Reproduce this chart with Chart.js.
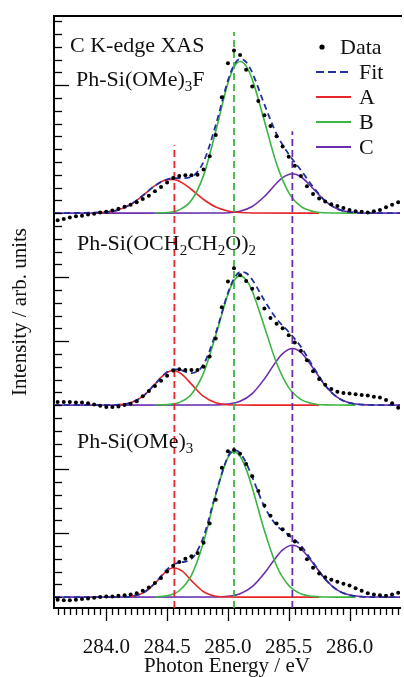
<!DOCTYPE html>
<html>
<head>
<meta charset="utf-8">
<script src="https://cdn.jsdelivr.net/npm/chart.js@4.4.1/dist/chart.umd.min.js"></script>
<style>
  html, body { margin: 0; padding: 0; background: #fff; overflow: hidden; }
  #wrap { width: 404px; height: 677px; }
</style>
</head>
<body>
<div id="wrap"><canvas id="xas" width="404" height="677"></canvas></div>
<script>
// photon energy grid of the measured points (eV)
const dataE = [283.60, 283.65, 283.70, 283.75, 283.80, 283.85, 283.90, 283.95, 284.00, 284.05,
  284.10, 284.15, 284.20, 284.25, 284.30, 284.35, 284.40, 284.45, 284.50, 284.55,
  284.60, 284.65, 284.70, 284.75, 284.80, 284.85, 284.90, 284.95, 285.00, 285.05,
  285.10, 285.15, 285.20, 285.25, 285.30, 285.35, 285.40, 285.45, 285.50, 285.55,
  285.60, 285.65, 285.70, 285.75, 285.80, 285.85, 285.90, 285.95, 286.00, 286.05,
  286.10, 286.15, 286.20, 286.25, 286.30, 286.35, 286.40];

// measured intensity, each relative to its own baseline
const dataOMe3F = [-0.11, -0.09, -0.07, -0.05, -0.04, -0.02, -0.01, 0.01, 0.02, 0.04,
  0.07, 0.10, 0.13, 0.17, 0.22, 0.27, 0.34, 0.41, 0.48, 0.55,
  0.58, 0.59, 0.59, 0.60, 0.68, 0.89, 1.22, 1.81, 2.34, 2.54,
  2.47, 2.24, 1.98, 1.75, 1.53, 1.36, 1.20, 1.04, 0.88, 0.74,
  0.58, 0.42, 0.30, 0.23, 0.18, 0.14, 0.11, 0.08, 0.05, 0.03,
  0.02, 0.01, 0.03, 0.05, 0.09, 0.13, 0.17];
const dataOCH2 = [0.05, 0.05, 0.05, 0.04, 0.04, 0.03, 0.01, -0.01, -0.03, -0.03,
  -0.02, 0.00, 0.02, 0.06, 0.14, 0.22, 0.30, 0.38, 0.46, 0.54,
  0.56, 0.55, 0.55, 0.55, 0.60, 0.76, 1.04, 1.53, 1.93, 2.14,
  2.03, 1.94, 1.82, 1.67, 1.51, 1.36, 1.27, 1.20, 1.09, 0.98,
  0.85, 0.70, 0.53, 0.41, 0.32, 0.25, 0.21, 0.19, 0.18, 0.17,
  0.16, 0.15, 0.13, 0.12, 0.08, 0.03, -0.04];
const dataOMe3 = [-0.04, -0.05, -0.05, -0.04, -0.03, -0.02, -0.01, 0.00, 0.01, 0.01,
  0.02, 0.03, 0.04, 0.06, 0.10, 0.15, 0.22, 0.30, 0.40, 0.49,
  0.55, 0.60, 0.64, 0.69, 0.85, 1.15, 1.52, 2.02, 2.28, 2.30,
  2.24, 2.08, 1.89, 1.66, 1.43, 1.27, 1.15, 1.06, 0.97, 0.87,
  0.75, 0.59, 0.46, 0.37, 0.31, 0.27, 0.24, 0.21, 0.18, 0.14,
  0.10, 0.06, 0.04, 0.03, 0.02, 0.04, 0.07];

// fitted envelope
const fitE = [283.57, 284.0, 284.1, 284.2, 284.3, 284.4, 284.5, 284.55, 284.6, 284.7,
  284.8, 284.9, 285.0, 285.05, 285.1, 285.15, 285.2, 285.3, 285.4, 285.5,
  285.6, 285.7, 285.8, 285.9, 286.0, 286.1, 286.2, 286.415];
const fitOMe3F = [0, 0.016, 0.052, 0.136, 0.275, 0.43, 0.529, 0.549, 0.545, 0.569,
  0.803, 1.376, 2.07, 2.313, 2.409, 2.36, 2.196, 1.698, 1.237, 0.92,
  0.672, 0.41, 0.192, 0.067, 0.017, 0.003, 0, 0];
const fitOCH2 = [0, 0.001, 0.006, 0.036, 0.136, 0.329, 0.519, 0.559, 0.553, 0.499,
  0.638, 1.126, 1.751, 1.976, 2.08, 2.062, 1.96, 1.635, 1.348, 1.143,
  0.913, 0.602, 0.309, 0.121, 0.035, 0.008, 0.001, 0];
const fitOMe3 = [0, 0, 0.001, 0.01, 0.064, 0.219, 0.434, 0.507, 0.539, 0.598,
  0.944, 1.615, 2.194, 2.298, 2.254, 2.097, 1.875, 1.414, 1.122, 0.97,
  0.806, 0.542, 0.281, 0.11, 0.032, 0.007, 0.001, 0];

// component A
const compAE = [283.9, 284.0, 284.1, 284.2, 284.3, 284.4, 284.475, 284.55, 284.625, 284.7,
  284.8, 284.9, 285.0, 285.1, 285.2, 285.75];
const compA_OMe3F = [0.004, 0.016, 0.052, 0.136, 0.274, 0.429, 0.510, 0.527, 0.473, 0.369,
  0.213, 0.096, 0.034, 0.009, 0.002, 0];
const compA_OCH2 = [null, null, 0.006, 0.036, 0.135, 0.328, 0.477, 0.54, 0.477, 0.328,
  0.135, 0.036, 0.006, 0.001, 0, 0];
const compA_OMe3 = [null, null, null, 0.010, 0.062, 0.216, 0.371, 0.459, 0.406, 0.258,
  0.084, 0.015, 0.001, 0, 0, 0];

// component B
const compBE = [284.4, 284.5, 284.55, 284.6, 284.7, 284.8, 284.9, 285.0, 285.05, 285.1,
  285.15, 285.2, 285.3, 285.4, 285.5, 285.6, 285.7, 285.8, 285.9, 286.05];
const compB_OMe3F = [0.001, 0.009, 0.022, 0.05, 0.20, 0.59, 1.28, 2.03, 2.28, 2.37,
  2.297, 2.09, 1.439, 0.77, 0.32, 0.104, 0.026, 0.005, 0.001, 0];
const compB_OCH2 = [0.001, 0.008, 0.019, 0.042, 0.171, 0.503, 1.09, 1.73, 1.943, 2.02,
  1.957, 1.78, 1.226, 0.657, 0.273, 0.089, 0.022, 0.004, 0.001, 0];
const compB_OMe3 = [0.003, 0.021, 0.048, 0.10, 0.34, 0.86, 1.60, 2.18, 2.27, 2.20,
  2.0, 1.71, 1.04, 0.49, 0.18, 0.052, 0.011, 0.002, 0, 0];

// component C
const compCE = [283.57, 284.9, 285.0, 285.1, 285.2, 285.3, 285.4, 285.45, 285.53, 285.6,
  285.7, 285.8, 285.9, 286.0, 286.1, 286.2, 286.415];
const compC_OMe3F = [0, 0.001, 0.006, 0.030, 0.104, 0.259, 0.467, 0.554, 0.615, 0.568,
  0.384, 0.187, 0.066, 0.017, 0.003, 0, 0];
const compC_OCH2 = [0, 0.003, 0.015, 0.059, 0.18, 0.409, 0.691, 0.806, 0.885, 0.824,
  0.58, 0.305, 0.12, 0.035, 0.008, 0.001, 0];
const compC_OMe3 = [0, 0.003, 0.013, 0.054, 0.165, 0.374, 0.632, 0.738, 0.81, 0.754,
  0.531, 0.279, 0.11, 0.032, 0.007, 0.001, 0];

// vertical offset of each spectrum, top to bottom
const offsets = [6, 3, 0];

// peak position markers (eV) and how high each dashed line reaches
const markE = [284.56, 285.05, 285.53];
const markTop = [7.06, 8.83, 7.28];

const xMajor = [284.0, 284.5, 285.0, 285.5, 286.0];
const yMajor = [1, 2, 4, 5, 8];
const legendLabels = ['Data', 'Fit', 'A', 'B', 'C'];

const RED = '#e5262b', GREEN = '#3cb543', PURPLE = '#6a2dac', BLUE = '#23309e';
const SERIF = '"Liberation Serif", "Times New Roman", serif';
const X_MIN = 283.57, X_MAX = 286.415, Y_MIN = -0.17, Y_MAX = 9.08;

const spectra = [
  { data: dataOMe3F, fit: fitOMe3F, a: compA_OMe3F, b: compB_OMe3F, c: compC_OMe3F },
  { data: dataOCH2, fit: fitOCH2, a: compA_OCH2, b: compB_OCH2, c: compC_OCH2 },
  { data: dataOMe3, fit: fitOMe3, a: compA_OMe3, b: compB_OMe3, c: compC_OMe3 }
];

const pts = (xs, ys, off) => xs.map((x, i) => ({ x: x, y: ys[i] == null ? null : ys[i] + off }));

const datasets = [];
spectra.forEach((s, k) => {
  const off = offsets[k];
  datasets.push({ label: 'Data', data: pts(dataE, s.data, off), showLine: false,
    pointRadius: 2, pointBackgroundColor: '#000', pointBorderWidth: 0, order: 0 });
  datasets.push({ label: 'B', data: pts(compBE, s.b, off), borderColor: GREEN, borderWidth: 1.6,
    pointRadius: 0, cubicInterpolationMode: 'monotone', order: 3 });
  datasets.push({ label: 'A', data: pts(compAE, s.a, off), borderColor: RED, borderWidth: 1.6,
    pointRadius: 0, cubicInterpolationMode: 'monotone', order: 4 });
  datasets.push({ label: 'C', data: pts(compCE, s.c, off), borderColor: PURPLE, borderWidth: 1.6,
    pointRadius: 0, cubicInterpolationMode: 'monotone', order: 5 });
  datasets.push({ label: 'Fit', data: pts(fitE, s.fit, off), borderColor: BLUE, borderWidth: 1.8,
    borderDash: [6, 4], pointRadius: 0, cubicInterpolationMode: 'monotone', order: 2 });
});
[RED, GREEN, PURPLE].forEach((col, i) => {
  datasets.push({ label: 'mark', data: [{ x: markE[i], y: Y_MIN }, { x: markE[i], y: markTop[i] }],
    borderColor: col, borderWidth: 1.8, borderDash: [7, 4], pointRadius: 0, order: 1 });
});

function richText(ctx, x, y, parts) {
  let cx = x;
  parts.forEach(([t, sub]) => {
    ctx.font = (sub ? '15px ' : '22px ') + SERIF;
    ctx.fillText(t, cx, sub ? y + 5 : y);
    cx += ctx.measureText(t).width;
  });
}

const decor = {
  id: 'decor',
  afterDraw(chart) {
    const { ctx, chartArea: ca, scales: { x, y } } = chart;
    ctx.save();
    ctx.strokeStyle = '#000';
    ctx.lineWidth = 2;
    ctx.beginPath();
    ctx.moveTo(ca.left - 1, ca.top);
    ctx.lineTo(ca.right + 2, ca.top);
    ctx.stroke();

    // x ticks, outward
    ctx.lineWidth = 1.3;
    for (let v = 283.6; v <= X_MAX; v += 0.05) {
      const e = Math.round(v * 100) / 100;
      const px = Math.round(x.getPixelForValue(e)) + 0.5;
      const major = xMajor.some(m => Math.abs(m - e) < 1e-6);
      ctx.beginPath();
      ctx.moveTo(px, ca.bottom);
      ctx.lineTo(px, ca.bottom + (major ? 13 : 7));
      ctx.stroke();
    }
    // y ticks, inward
    for (let v = 0; v <= 9.01; v += 0.2) {
      const val = Math.round(v * 10) / 10;
      const py = Math.round(y.getPixelForValue(val)) + 0.5;
      const major = yMajor.some(m => Math.abs(m - val) < 1e-6);
      ctx.beginPath();
      ctx.moveTo(ca.left, py);
      ctx.lineTo(ca.left + (major ? 15 : 8), py);
      ctx.stroke();
    }

    ctx.fillStyle = '#111';
    ctx.textBaseline = 'alphabetic';
    ctx.textAlign = 'left';
    richText(ctx, 70, 52, [['C K-edge XAS', false]]);
    richText(ctx, 76, 86, [['Ph-Si(OMe)', false], ['3', true], ['F', false]]);
    richText(ctx, 77, 250, [['Ph-Si(OCH', false], ['2', true], ['CH', false], ['2', true], ['O)', false], ['2', true]]);
    richText(ctx, 77, 448, [['Ph-Si(OMe)', false], ['3', true]]);

    // legend
    const lx0 = 316, lx1 = 351, ly0 = 47, dy = 25;
    ctx.font = '22px ' + SERIF;
    ctx.textBaseline = 'middle';
    const cols = [null, BLUE, RED, GREEN, PURPLE];
    legendLabels.forEach((lab, i) => {
      const ly = ly0 + i * dy;
      if (i === 0) {
        ctx.fillStyle = '#000';
        ctx.beginPath();
        ctx.arc(322, ly, 2.6, 0, Math.PI * 2);
        ctx.fill();
        ctx.fillStyle = '#111';
        ctx.fillText(lab, 340, ly + 1);
      } else {
        ctx.strokeStyle = cols[i];
        ctx.lineWidth = 1.8;
        ctx.setLineDash(i === 1 ? [8, 4] : []);
        ctx.beginPath();
        ctx.moveTo(lx0, ly);
        ctx.lineTo(lx1, ly);
        ctx.stroke();
        ctx.setLineDash([]);
        ctx.fillStyle = '#111';
        ctx.fillText(lab, 359, ly + 1);
      }
    });
    ctx.restore();
  }
};

new Chart(document.getElementById('xas'), {
  type: 'line',
  data: { datasets: datasets },
  options: {
    responsive: false,
    animation: false,
    layout: { padding: { top: 16, left: 0, right: 0, bottom: 0 } },
    plugins: { legend: { display: false }, tooltip: { enabled: false } },
    scales: {
      x: {
        type: 'linear', min: X_MIN, max: X_MAX,
        afterBuildTicks: s => { s.ticks = xMajor.map(v => ({ value: v })); },
        afterFit: s => { s.height = 69; },
        grid: { display: false, drawTicks: false },
        border: { display: true, color: '#000', width: 2 },
        ticks: { autoSkip: false, maxRotation: 0, padding: 27, color: '#111',
          font: { family: SERIF, size: 21 }, callback: v => Number(v).toFixed(1) },
        title: { display: true, text: 'Photon Energy / eV', color: '#111', padding: { top: 0, bottom: -2 },
          font: { family: SERIF, size: 21 } }
      },
      y: {
        type: 'linear', min: Y_MIN, max: Y_MAX,
        afterBuildTicks: s => { s.ticks = []; },
        afterFit: s => { s.width = 54; },
        grid: { display: false, drawTicks: false },
        border: { display: true, color: '#000', width: 2 },
        ticks: { display: false },
        title: { display: true, text: 'Intensity / arb. units', color: '#111',
          padding: { top: 8, bottom: 0 }, font: { family: SERIF, size: 21 } }
      }
    }
  },
  plugins: [decor]
});
</script>
</body>
</html>
